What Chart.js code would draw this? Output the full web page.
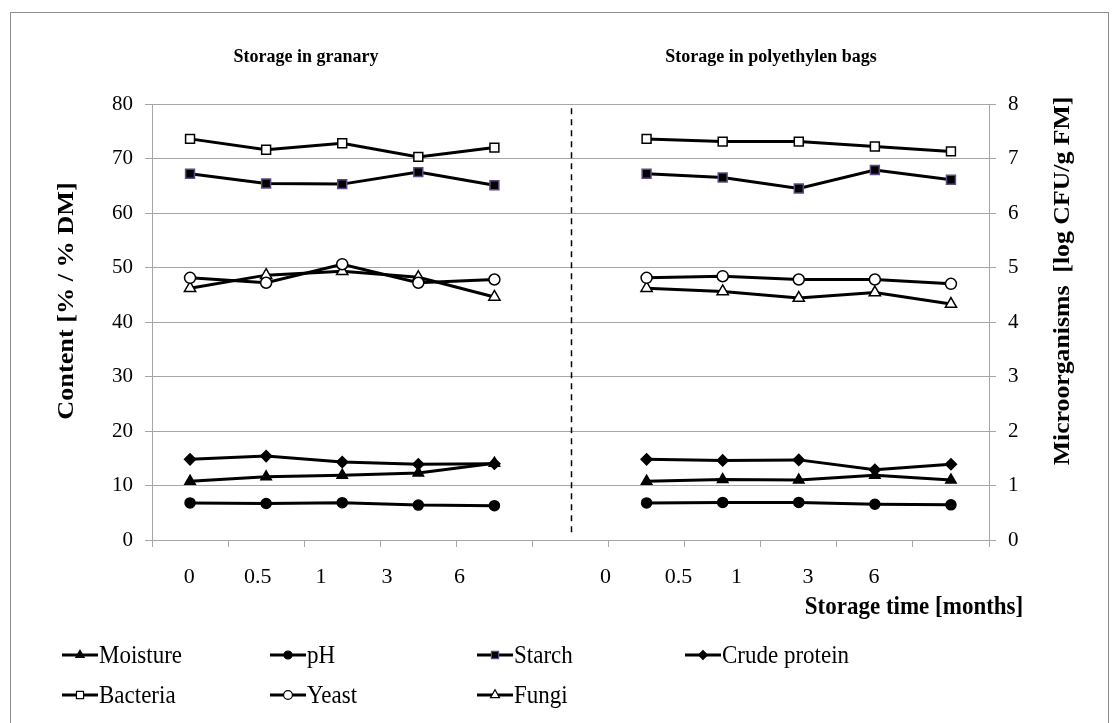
<!DOCTYPE html>
<html>
<head>
<meta charset="utf-8">
<script src="https://cdn.jsdelivr.net/npm/chart.js@4.4.1/dist/chart.umd.min.js"></script>
<style>
  html, body { margin: 0; padding: 0; background: #fff; }
  #wrap { position: relative; width: 1117px; height: 723px; }
</style>
</head>
<body>
<div id="wrap"><canvas id="grafico" width="1117" height="723"></canvas></div>
<script>
// Categorias: 5 tempos no celeiro, uma lacuna, 5 tempos nos sacos
const categorias = ['0', '0.5', '1', '3', '6', '', '0', '0.5', '1', '3', '6'];
const rotulosTempo = ['0', '0.5', '1', '3', '6', '0', '0.5', '1', '3', '6'];
// onde o Excel deixou os rótulos (em unidades de categoria, 0..11)
const posRotulos = [0.49, 1.39, 2.22, 3.09, 4.04, 5.96, 6.92, 7.68, 8.62, 9.49];

// Eixo esquerdo: Content [% / % DM]
const umidade   = [10.8, 11.6, 11.9, 12.3, 14.1, null, 10.8, 11.1, 11.0, 11.9, 11.0];
const ph        = [6.8, 6.7, 6.85, 6.4, 6.3, null, 6.8, 6.9, 6.9, 6.55, 6.45];
const amido     = [67.2, 65.4, 65.3, 67.5, 65.1, null, 67.2, 66.5, 64.5, 67.9, 66.1];
const proteina  = [14.8, 15.4, 14.3, 13.9, 14.0, null, 14.8, 14.6, 14.7, 12.9, 13.9];
// Eixo direito: Microorganisms [log CFU/g FM]
const bacterias = [7.36, 7.16, 7.28, 7.03, 7.20, null, 7.36, 7.31, 7.31, 7.22, 7.13];
const leveduras = [4.81, 4.72, 5.06, 4.72, 4.78, null, 4.81, 4.84, 4.78, 4.78, 4.70];
const fungos    = [4.62, 4.86, 4.93, 4.82, 4.46, null, 4.62, 4.56, 4.44, 4.54, 4.33];

const fonte = 'Liberation Serif';
const cinza = '#a6a6a6';

function serie(label, data, eixo, estilo, preenchido, raio, borda) {
    return {
        label: label,
        data: data,
        yAxisID: eixo,
        borderColor: '#000',
        borderWidth: 3,
        pointStyle: estilo,
        pointRadius: raio,
        pointBackgroundColor: preenchido ? '#000' : '#fff',
        pointBorderColor: borda || '#000',
        pointBorderWidth: 1.5,
        spanGaps: false,
        tension: 0
    };
}

const datasets = [
    serie('Moisture', umidade, 'y', 'triangle', true, 6),
    serie('pH', ph, 'y', 'circle', true, 5),
    serie('Starch', amido, 'y', 'rect', true, 6.3, '#5e4a86'),
    serie('Crude protein', proteina, 'y', 'rectRot', true, 5.5),
    serie('Bacteria', bacterias, 'y2', 'rect', false, 6.3),
    serie('Yeast', leveduras, 'y2', 'circle', false, 5.5),
    serie('Fungi', fungos, 'y2', 'triangle', false, 6.5)
];

// posição das entradas da legenda (coluna, linha)
const legendaX = [62, 270, 477, 685];
const legendaY = [655, 695];

// texto girado, esticado no sentido do comprimento como no original
function textoVertical(ctx, txt, x, y, estica) {
    ctx.save();
    ctx.translate(x, y);
    ctx.rotate(-Math.PI / 2);
    ctx.scale(estica, 1);
    ctx.fillText(txt, 0, 0);
    ctx.restore();
}

// texto horizontal um pouco mais alto que largo (imagem original esticada)
function textoAlto(ctx, txt, x, y, estica) {
    ctx.save();
    ctx.translate(x, y);
    ctx.scale(1, estica);
    ctx.fillText(txt, 0, 0);
    ctx.restore();
}

// Plugin para desenhar moldura, títulos, linha tracejada e legenda
const extras = {
    id: 'extras',
    afterDraw(chart) {
        const ctx = chart.ctx;
        const xs = chart.scales.x;
        const ys = chart.scales.y;
        ctx.save();

        // moldura
        ctx.strokeStyle = '#8c8c8c';
        ctx.lineWidth = 1;
        ctx.strokeRect(10.5, 12.5, 1098, 720);

        // linha tracejada separando os dois armazenamentos
        const xm = Math.round(xs.getPixelForValue(5)) + 0.5;
        ctx.strokeStyle = '#000';
        ctx.lineWidth = 1.5;
        ctx.setLineDash([6, 5]);
        ctx.beginPath();
        ctx.moveTo(xm, ys.getPixelForValue(79.2));
        ctx.lineTo(xm, ys.getPixelForValue(1.4));
        ctx.stroke();
        ctx.setLineDash([]);

        // títulos
        ctx.fillStyle = '#000';
        ctx.textAlign = 'center';
        ctx.textBaseline = 'middle';
        ctx.font = 'bold 18px ' + fonte;
        textoAlto(ctx, 'Storage in granary', 306, 57, 1.1);
        textoAlto(ctx, 'Storage in polyethylen bags', 771, 57, 1.1);
        ctx.font = 'bold 23px ' + fonte;
        textoAlto(ctx, 'Storage time [months]', 914, 607, 1.1);

        ctx.font = 'bold 23px ' + fonte;
        textoVertical(ctx, 'Content [% / % DM]', 67, 301, 1.14);
        textoVertical(ctx, 'Microorganisms  [log CFU/g FM]', 1063, 281, 1.12);

        // legenda
        ctx.font = '23px ' + fonte;
        ctx.textAlign = 'left';
        chart.data.datasets.forEach((ds, i) => {
            const x0 = legendaX[i % 4];
            const y0 = legendaY[Math.floor(i / 4)];
            ctx.strokeStyle = '#000';
            ctx.lineWidth = 3;
            ctx.beginPath();
            ctx.moveTo(x0, y0);
            ctx.lineTo(x0 + 36, y0);
            ctx.stroke();
            ctx.fillStyle = ds.pointBackgroundColor;
            ctx.strokeStyle = ds.pointBorderColor;
            ctx.lineWidth = 1.2;
            Chart.helpers.drawPoint(ctx, {
                pointStyle: ds.pointStyle,
                rotation: 0,
                radius: ds.pointRadius * 0.8,
                borderWidth: 1.2
            }, x0 + 18, y0);
            ctx.fillStyle = '#000';
            textoAlto(ctx, ds.label, x0 + 37, y0 + 1, 1.1);
        });
        ctx.restore();
    }
};

new Chart(document.getElementById('grafico').getContext('2d'), {
    type: 'line',
    data: { labels: categorias, datasets: datasets },
    options: {
        responsive: false,
        animation: false,
        events: [],
        layout: { padding: { top: 104, left: 0, right: 0, bottom: 0 } },
        plugins: { legend: { display: false }, tooltip: { enabled: false } },
        scales: {
            x: {
                type: 'category',
                offset: true,
                weight: 0,
                grid: { offset: true, drawOnChartArea: false, color: cinza, tickLength: 7 },
                border: { color: cinza },
                ticks: { display: false },
                afterFit: s => { s.height = 8; }
            },
            xRot: {
                type: 'linear',
                position: 'bottom',
                weight: 1,
                min: 0,
                max: 11,
                grid: { display: false, drawTicks: false },
                border: { display: false },
                afterBuildTicks: s => { s.ticks = posRotulos.map(v => ({ value: v })); },
                ticks: {
                    autoSkip: false,
                    maxRotation: 0,
                    padding: 16,
                    color: '#000',
                    font: { family: fonte, size: 22 },
                    callback: (v, i) => rotulosTempo[i]
                },
                afterFit: s => { s.height = 175; }
            },
            y: {
                position: 'left',
                min: 0,
                max: 80,
                ticks: { stepSize: 10, color: '#000', padding: 12, font: { family: fonte, size: 21 } },
                grid: { color: cinza, tickLength: 7 },
                border: { color: cinza },
                afterFit: s => { s.width = 152; }
            },
            y2: {
                position: 'right',
                min: 0,
                max: 8,
                ticks: { stepSize: 1, color: '#000', padding: 12, font: { family: fonte, size: 21 } },
                grid: { drawOnChartArea: false, color: cinza, tickLength: 7 },
                border: { color: cinza },
                afterFit: s => { s.width = 128; }
            }
        }
    },
    plugins: [extras]
});
</script>
</body>
</html>
